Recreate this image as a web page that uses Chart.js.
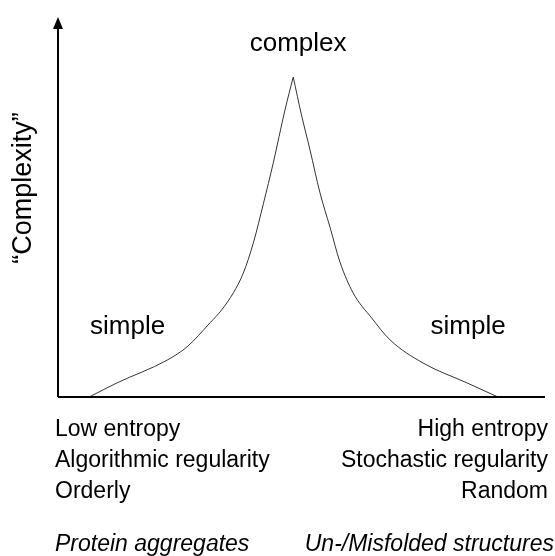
<!DOCTYPE html>
<html>
<head>
<meta charset="utf-8">
<script src="https://cdn.jsdelivr.net/npm/chart.js@4"></script>
<style>
  html, body { margin: 0; padding: 0; background: #fff; }
  #wrap { width: 555px; height: 556px; position: relative; }
</style>
</head>
<body>
<div id="wrap"><canvas id="chart"></canvas></div>
<script>
// entropy (0..100) vs "complexity" (0..100)
// rising branch up to the peak, then falling branch from the peak
var riseEntropy = [6.4, 12.1, 22.4, 26.5, 31.2, 33.6, 36.0, 38.05, 40.1, 42.2, 44.2, 46.6, 48.3];
var riseComplexity = [0, 3.7, 9.7, 13.2, 19.5, 22.9, 27.4, 32.6, 40.5, 51.0, 61.6, 75.5, 84.2];
var fallEntropy = [48.3, 50.0, 51.75, 53.8, 55.85, 57.9, 60.6, 64.4, 68.2, 74.95, 84.0, 90.35];
var fallComplexity = [84.2, 74.2, 65.0, 53.7, 44.7, 35.5, 27.4, 20.8, 15.0, 8.95, 3.7, 0];

var axisTitle = '\u201CComplexity\u201D';
var peakLabel = 'complex';
var lowLabel = 'simple';
var leftLines = ['Low entropy', 'Algorithmic regularity', 'Orderly'];
var rightLines = ['High entropy', 'Stochastic regularity', 'Random'];
var leftExample = 'Protein aggregates';
var rightExample = 'Un-/Misfolded structures';

function toPoints(xs, ys) {
  return xs.map(function (x, i) { return { x: x, y: ys[i] }; });
}

var decorations = {
  id: 'decorations',
  afterDraw: function (chart) {
    var ctx = chart.ctx;
    var xs = chart.scales.x, ys = chart.scales.y;
    var left = xs.getPixelForValue(0), right = xs.getPixelForValue(100);
    var bottom = ys.getPixelForValue(0), top = ys.getPixelForValue(100);
    ctx.save();
    ctx.strokeStyle = '#000';
    ctx.fillStyle = '#000';
    ctx.lineWidth = 2;
    ctx.beginPath();
    ctx.moveTo(left, bottom);
    ctx.lineTo(right, bottom);
    ctx.moveTo(left, bottom);
    ctx.lineTo(left, top + 8);
    ctx.stroke();
    // arrow head
    ctx.beginPath();
    ctx.moveTo(left, top);
    ctx.lineTo(left - 5, top + 12);
    ctx.lineTo(left + 5, top + 12);
    ctx.closePath();
    ctx.fill();

    ctx.font = '26px "Liberation Sans", Arial, sans-serif';
    ctx.textBaseline = 'middle';
    ctx.textAlign = 'center';
    ctx.fillText(peakLabel, xs.getPixelForValue(49.3), ys.getPixelForValue(93));
    ctx.fillText(lowLabel, xs.getPixelForValue(14.3), ys.getPixelForValue(18.5));
    ctx.fillText(lowLabel, xs.getPixelForValue(84.2), ys.getPixelForValue(18.5));

    ctx.save();
    ctx.translate(24, ys.getPixelForValue(55));
    ctx.rotate(-Math.PI / 2);
    ctx.font = '27px "Liberation Sans", Arial, sans-serif';
    ctx.fillText(axisTitle, 0, 0);
    ctx.restore();

    ctx.font = '23px "Liberation Sans", Arial, sans-serif';
    var lineY = [430, 461, 492];
    ctx.textAlign = 'left';
    leftLines.forEach(function (t, i) { ctx.fillText(t, 55, lineY[i]); });
    ctx.textAlign = 'right';
    rightLines.forEach(function (t, i) { ctx.fillText(t, 548, lineY[i]); });

    ctx.font = 'italic 23px "Liberation Sans", Arial, sans-serif';
    ctx.textAlign = 'left';
    ctx.fillText(leftExample, 55, 545);
    ctx.textAlign = 'right';
    ctx.fillText(rightExample, 554, 545);
    ctx.restore();
  }
};

var curveStyle = {
  borderColor: '#333',
  borderWidth: 1,
  pointRadius: 0,
  fill: false,
  cubicInterpolationMode: 'monotone'
};

new Chart(document.getElementById('chart'), {
  type: 'line',
  data: {
    datasets: [
      Object.assign({ data: toPoints(riseEntropy, riseComplexity) }, curveStyle),
      Object.assign({ data: toPoints(fallEntropy, fallComplexity) }, curveStyle)
    ]
  },
  options: {
    responsive: true,
    maintainAspectRatio: false,
    animation: false,
    layout: { padding: { left: 58, right: 10, top: 17, bottom: 159 } },
    plugins: { legend: { display: false }, tooltip: { enabled: false } },
    scales: {
      x: { type: 'linear', min: 0, max: 100, display: false },
      y: { min: 0, max: 100, display: false }
    }
  },
  plugins: [decorations]
});
</script>
</body>
</html>
